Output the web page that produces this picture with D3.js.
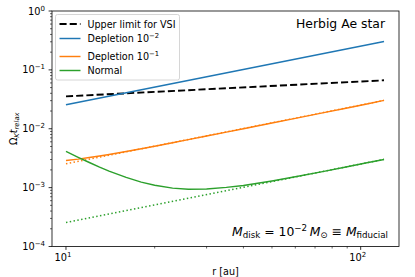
<!DOCTYPE html>
<html>
<head>
<meta charset="utf-8">
<script src="https://cdn.jsdelivr.net/npm/d3@7"></script>
<style>
  body { margin: 0; background: #fff; }
  text { font-family: "DejaVu Sans", sans-serif; fill: #000; }
</style>
</head>
<body>
<div id="chart"></div>
<script>
w = 415;
h = 277;
left = 52; right = 399; top_ = 11; bottom = 246.5;

// straight power laws: end points
rLine = [10, 120];
vsiLimit = [0.0355, 0.0665];
depletion2 = [0.0255, 0.304];
depletion1Dotted = [0.00254, 0.0303];
normalDotted = [0.000255, 0.00303];

// curved lines: points
rCurve = [10, 11, 12, 13, 14, 16, 18, 20, 23, 26, 30, 35, 40, 50, 60, 75, 90, 105, 120];
depletion1 = [0.00289, 0.00305, 0.00324, 0.00344, 0.00366, 0.00411, 0.00458, 0.00506, 0.00579, 0.00653,
              0.00752, 0.00876, 0.0100, 0.0125, 0.0150, 0.0188, 0.0225, 0.0263, 0.0303];
normal = [0.00412, 0.00327, 0.00267, 0.00223, 0.00191, 0.00149, 0.00124, 0.00110, 0.00098, 0.00094,
          0.00095, 0.00101, 0.00109, 0.00130, 0.00153, 0.00189, 0.00226, 0.00264, 0.00300];

xMajor = [10, 100];
xMinor = [20, 30, 40, 50, 60, 70, 80, 90];
yMajor = [-4, -3, -2, -1, 0];

legendItems = [
	{label: 'Upper limit for VSI', sup: null, color: '#000', dash: '7.1,3.1', width: 1.9},
	{label: 'Depletion 10', sup: '\u22122', color: '#1f77b4', dash: null, width: 1.45},
	{label: 'Depletion 10', sup: '\u22121', color: '#ff7f0e', dash: null, width: 1.45},
	{label: 'Normal', sup: null, color: '#2ca02c', dash: null, width: 1.45}
];

var svg = d3.select('#chart').append('svg')
	.attr('width', w)
	.attr('height', h);

xScale = d3.scaleLog().domain([8.965, 134.9]).range([left, right]);
yScale = d3.scaleLog().domain([1e-4, 1]).range([bottom, top_]);

// ticks
var yMinor = [];
yMajor.slice(0, -1).forEach(function(e) {
	for (var k = 2; k < 10; k++) yMinor.push(k * Math.pow(10, e));
});

var g = svg.append('g');
xMinor.forEach(function(v) {
	g.append('line').attr('x1', xScale(v)).attr('x2', xScale(v))
		.attr('y1', bottom).attr('y2', bottom + 2)
		.attr('stroke', '#000').attr('stroke-width', 0.6);
});
xMajor.forEach(function(v) {
	g.append('line').attr('x1', xScale(v)).attr('x2', xScale(v))
		.attr('y1', bottom).attr('y2', bottom + 3.4)
		.attr('stroke', '#000').attr('stroke-width', 0.8);
	var t = g.append('text').attr('x', xScale(v) - 3).attr('y', 261)
		.attr('text-anchor', 'middle').style('font-size', '9.8px');
	t.append('tspan').text('10');
	t.append('tspan').attr('dy', -4).style('font-size', '7px').text(Math.round(Math.log10(v)));
});
yMinor.forEach(function(v) {
	g.append('line').attr('x1', left).attr('x2', left - 2)
		.attr('y1', yScale(v)).attr('y2', yScale(v))
		.attr('stroke', '#000').attr('stroke-width', 0.6);
});
yMajor.forEach(function(e) {
	var y = yScale(Math.pow(10, e));
	g.append('line').attr('x1', left).attr('x2', left - 3.4)
		.attr('y1', y).attr('y2', y)
		.attr('stroke', '#000').attr('stroke-width', 0.8);
	var t = g.append('text').attr('x', 45).attr('y', y + 3.5)
		.attr('text-anchor', 'end').style('font-size', '9.8px');
	t.append('tspan').text('10');
	t.append('tspan').attr('dy', -4).style('font-size', '7px')
		.text(e === 0 ? '0' : '\u2212' + (-e));
});

// lines
var line = d3.line()
	.x(function(d) { return xScale(d[0]); })
	.y(function(d) { return yScale(d[1]); });

function draw(xs, ys, color, width, dash) {
	svg.append('path')
		.attr('d', line(d3.zip(xs, ys)))
		.attr('fill', 'none')
		.attr('stroke', color)
		.attr('stroke-width', width)
		.attr('stroke-dasharray', dash);
}

draw(rLine, depletion1Dotted, '#ff7f0e', 1.45, '1.45,2.4');
draw(rLine, normalDotted, '#2ca02c', 1.45, '1.45,2.4');
draw(rLine, vsiLimit, '#000', 1.9, '7.1,3.1');
draw(rLine, depletion2, '#1f77b4', 1.45, null);
draw(rCurve, depletion1, '#ff7f0e', 1.45, null);
draw(rCurve, normal, '#2ca02c', 1.45, null);

// frame
svg.append('rect')
	.attr('x', left).attr('y', top_)
	.attr('width', right - left).attr('height', bottom - top_)
	.attr('fill', 'none').attr('stroke', '#000').attr('stroke-width', 0.8);

// legend
var lg = svg.append('g');
lg.append('rect')
	.attr('x', 55.5).attr('y', 14.5).attr('width', 124).attr('height', 65.5)
	.attr('rx', 2).attr('fill', '#fff').attr('fill-opacity', 0.8)
	.attr('stroke', '#ccc').attr('stroke-width', 0.8);
var rowY = [24, 38.5, 56.5, 70.5];
legendItems.forEach(function(d, i) {
	lg.append('line').attr('x1', 59.5).attr('x2', 80.5)
		.attr('y1', rowY[i]).attr('y2', rowY[i])
		.attr('stroke', d.color).attr('stroke-width', d.width)
		.attr('stroke-dasharray', d.dash);
	var t = lg.append('text').attr('x', 87.5).attr('y', rowY[i] + 3.5)
		.style('font-size', '9.6px');
	t.append('tspan').text(d.label);
	if (d.sup) t.append('tspan').attr('dy', -4.5).style('font-size', '6.8px').text(d.sup);
});

// annotations
svg.append('text').attr('x', 385).attr('y', 27.7)
	.attr('text-anchor', 'end').style('font-size', '12.4px').text('Herbig Ae star');

var ann = svg.append('text').attr('x', 388).attr('y', 236)
	.attr('text-anchor', 'end').style('font-size', '12.4px');
ann.append('tspan').style('font-style', 'italic').text('M');
ann.append('tspan').attr('dy', 2.2).style('font-size', '8.7px').text('disk');
ann.append('tspan').attr('dy', -2.2).text(' = 10');
ann.append('tspan').attr('dy', -5).style('font-size', '8.7px').text('\u22122');
ann.append('tspan').attr('dy', 5).style('font-style', 'italic').text('\u2009M');
ann.append('tspan').attr('dy', 2.2).style('font-size', '8.7px').text('\u2299');
ann.append('tspan').attr('dy', -2.2).text(' \u2261 ');
ann.append('tspan').style('font-style', 'italic').text('M');
ann.append('tspan').attr('dy', 2.2).style('font-size', '8.7px').text('fiducial');

// axis labels
svg.append('text').attr('x', (left + right) / 2).attr('y', 274.5)
	.attr('text-anchor', 'middle').style('font-size', '9.6px').text('r [au]');

var yl = svg.append('text')
	.attr('transform', 'translate(17,' + ((top_ + bottom) / 2) + ') rotate(-90)')
	.attr('text-anchor', 'middle').style('font-size', '9.6px');
yl.append('tspan').text('\u03a9');
yl.append('tspan').attr('dy', 2).style('font-size', '6.8px').style('font-style', 'italic').text('K');
yl.append('tspan').attr('dy', -2).style('font-style', 'italic').text('t');
yl.append('tspan').attr('dy', 2).style('font-size', '6.8px').style('font-style', 'italic').text('relax');
</script>
</body>
</html>
